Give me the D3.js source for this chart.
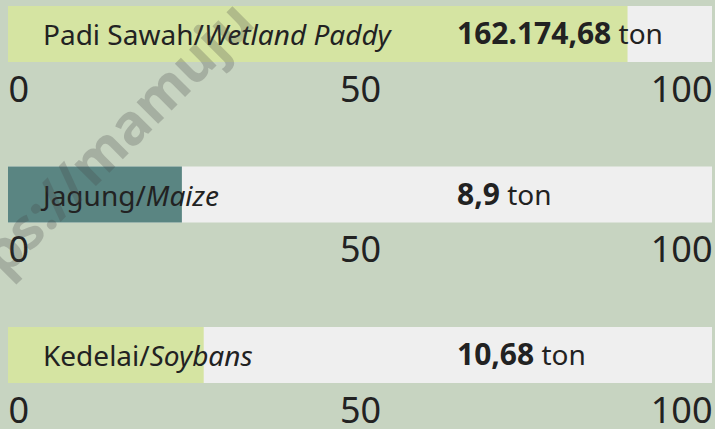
<!DOCTYPE html>
<html>
<head>
<meta charset="utf-8">
<script src="https://cdn.jsdelivr.net/npm/d3@7"></script>
<style>
  body { margin: 0; background: #c7d4c1; }
  svg { display: block; font-family: "Noto Sans", "Open Sans", sans-serif; }
  .tick text { fill: #222; }
</style>
</head>
<body>
<div id="chart"></div>
<script>
var width = 715,
    height = 429;

// data
var crops = ["Padi Sawah/", "Jagung/", "Kedelai/"];
var cropsEn = ["Wetland Paddy", "Maize", "Soybans"];
var percent = [88, 24.7, 27.8];
var amount = ["162.174,68", "8,9", "10,68"];
var unit = "ton";
var fillColor = ["#d5e4a2", "#5a8582", "#d5e4a2"];
var tickValues = [0, 50, 100];

var svg = d3.select("#chart").append("svg")
    .attr("width", width)
    .attr("height", height);

svg.append("rect")
    .attr("width", width)
    .attr("height", height)
    .attr("fill", "#c7d4c1");

var x = d3.scaleLinear()
    .domain([0, 100])
    .range([8, 712]);

var y = d3.scaleBand()
    .domain(crops)
    .range([6, 6 + 3 * 160.5])
    .paddingInner(0);

var barH = 56;

var panel = svg.selectAll("g.panel")
    .data(crops)
    .enter().append("g")
    .attr("class", "panel")
    .attr("transform", function(d) { return "translate(0," + y(d) + ")"; });

// track
panel.append("rect")
    .attr("x", x(0))
    .attr("y", 0)
    .attr("width", x(100) - x(0))
    .attr("height", barH)
    .attr("fill", "#efefef");

// value bar
panel.append("rect")
    .attr("x", x(0))
    .attr("y", 0)
    .attr("width", function(d, i) { return x(percent[i]) - x(0); })
    .attr("height", barH)
    .attr("fill", function(d, i) { return fillColor[i]; });

// crop name
var cropLabel = panel.append("text")
    .attr("x", 43)
    .attr("y", 39)
    .attr("font-size", 28)
    .attr("fill", "#222");
cropLabel.append("tspan").text(function(d) { return d; });
cropLabel.append("tspan")
    .attr("font-style", "italic")
    .text(function(d, i) { return cropsEn[i]; });

// amount
var valLabel = panel.append("text")
    .attr("x", 457)
    .attr("y", 38)
    .attr("font-size", 28)
    .attr("fill", "#222");
valLabel.append("tspan")
    .attr("font-weight", "bold")
    .attr("font-size", 30)
    .text(function(d, i) { return amount[i]; });
valLabel.append("tspan")
    .text(" " + unit);

// axis under each bar
panel.append("g")
    .attr("transform", "translate(0," + (barH + 14) + ")")
    .call(d3.axisBottom(x).tickValues(tickValues).tickSize(0).tickPadding(0))
    .call(function(g) {
        g.select(".domain").remove();
        g.selectAll("text")
            .attr("font-size", 36)
            .attr("font-family", "\"Noto Sans\", sans-serif")
            .attr("text-anchor", function(d) { return d == 0 ? "start" : d == 100 ? "end" : "middle"; });
    });

// watermark
svg.append("text")
    .attr("transform", "translate(4,278) rotate(-45)")
    .attr("font-size", 56)
    .attr("font-weight", "bold")
    .attr("fill", "#444")
    .attr("opacity", 0.25)
    .text("ps://mamuju");
</script>
</body>
</html>
